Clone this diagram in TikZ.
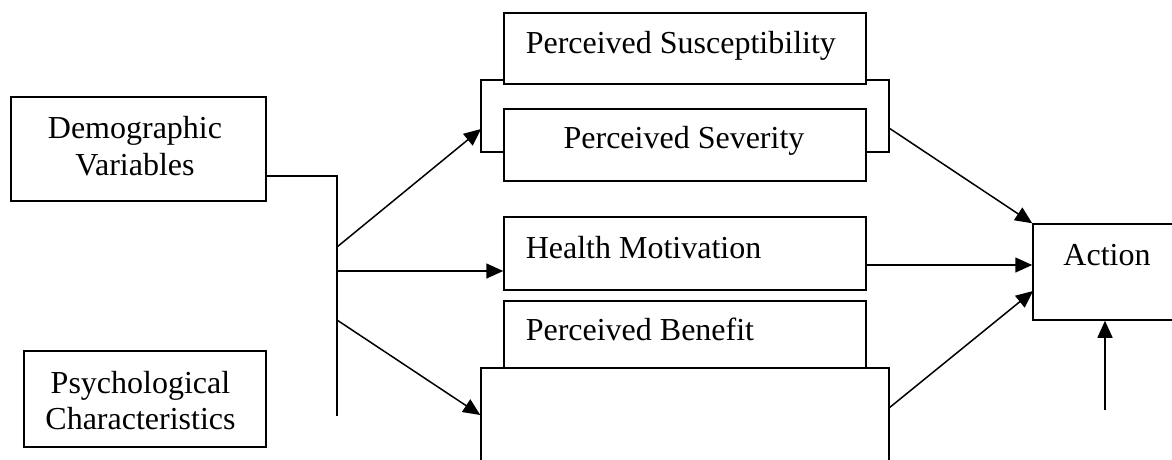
\documentclass[tikz,border=0pt]{standalone}
\usepackage{fontspec}
\setmainfont{Liberation Serif}
\usetikzlibrary{arrows.meta}
\begin{document}
\begin{tikzpicture}[x=1pt,y=-1pt,
  line width=1.5pt,
  box/.style={draw,rectangle,inner sep=0pt,minimum width=#1},
  txt/.style={inner sep=0pt,anchor=base,font=\fontsize{32}{38}\selectfont},
  txtl/.style={txt,anchor=base west},
  arr/.style={-{Triangle[length=17pt,width=15pt]}}]
\useasboundingbox (0,0) rectangle (1172,459);
\clip (0,0) rectangle (1172,459);

% left-hand factors
\node[box=255pt,minimum height=104pt] (dem) at (138.5,149) {};
\node[txt] (dem1) at (135,138) {Demographic};
\node[txt] (dem2) at (135,175) {Variables};

\node[box=242pt,minimum height=96pt] (psy) at (145,399) {};
\node[txt] (psy1) at (140.5,393) {Psychological};
\node[txt] (psy2) at (140.5,429) {Characteristics};

% perceptions
\node[box=362pt,minimum height=71pt] (sus) at (685,48.5) {};
\node[txtl] (sustxt) at (525,53) {Perceived Susceptibility};
\node[box=362pt,minimum height=72pt] (sev) at (685,145) {};
\node[txt] (sevtxt) at (684,148) {Perceived Severity};
\node[box=362pt,minimum height=73pt] (hm) at (685,253.5) {};
\node[txtl] (hmtxt) at (525,258) {Health Motivation};
\node[box=362pt,minimum height=67pt] (pb) at (685,334.5) {};
\node[txtl] (pbtxt) at (525,340) {Perceived Benefit};
\node[box=408pt,minimum height=140pt,fill=white] (big) at (685,438) {};

% outcome
\node[box=170pt,minimum height=96pt] (act) at (1118,272) {};
\node[txtl] (acttxt) at (1062.7,265) {Action};

% trunk from the left-hand factors
\coordinate (trunktop) at (337,176);
\coordinate (trunkbot) at (337,416);
\coordinate (j1) at (337,247);
\coordinate (j2) at (337,271);
\coordinate (j3) at (337,320);
\draw (dem.east |- trunktop) -- (trunktop) -- (trunkbot);

% brackets joining susceptibility and severity
\coordinate (bl) at (481,129);
\coordinate (br) at (889,128);
\draw (sus.west |- 0,80) -- (481,80) -- (481,152) -- (sev.west |- 0,152);
\draw (sus.east |- 0,80) -- (889,80) -- (889,152) -- (sev.east |- 0,152);

% arrows into the perceptions
\draw[arr] (j1) -- (bl);
\draw[arr] (j2) -- (j2 -| hm.west);
\draw[arr] (j3) -- (big.west |- 0,415);

% arrows into action
\coordinate (bigout) at (889,408);
\coordinate (actin) at (1033,291);
\coordinate (below) at (1105,410);
\draw[arr] (br) -- (act.north west);
\draw[arr] (hm.east |- 0,265) -- (act.west |- 0,265);
\draw[arr] (bigout) -- (actin);
\draw[arr] (below) -- (below |- act.south);
\end{tikzpicture}
\end{document}
